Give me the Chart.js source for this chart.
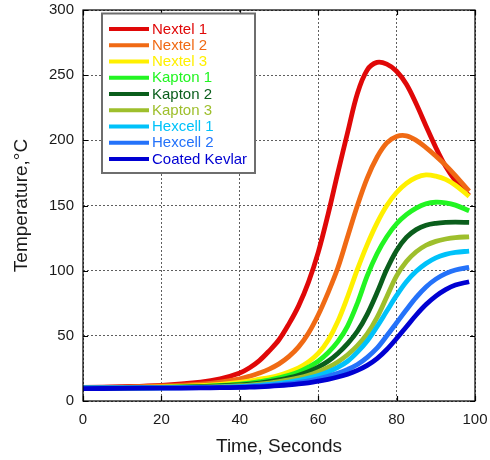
<!DOCTYPE html>
<html>
<head>
<meta charset="utf-8">
<script src="https://cdn.jsdelivr.net/npm/chart.js@4.4.1/dist/chart.umd.min.js"></script>
<style>
  html, body { margin: 0; padding: 0; background: #ffffff; }
  #wrap { width: 490px; height: 460px; position: relative; }
</style>
</head>
<body>
<div id="wrap"><canvas id="c" width="490" height="460"></canvas></div>
<script>
// ---- data ----
const TIMES = [0, 10, 20, 30, 35, 40, 42.5, 45, 47.5, 50, 52.5, 55, 57.5, 60, 62.5, 65, 67.5, 70, 72.5, 75, 77.5, 80, 82.5, 85, 87.5, 90, 92.5, 95, 98.5];

const NEXTEL_1      = [10.5, 11, 12, 14.5, 17, 21.5, 25.5, 31, 38.5, 47, 59, 73, 91, 114, 143, 175, 206, 236, 254, 259.8, 258.5, 253, 243, 228, 211, 194.5, 180, 169, 157.5];
const NEXTEL_2      = [10.3, 10.7, 11.5, 13, 14.5, 17, 19, 21.5, 24.5, 28.5, 34, 41.5, 52, 66, 83, 102, 126, 150, 171, 187, 198, 203, 203.5, 200, 194.5, 188, 181, 173, 161];
const NEXTEL_3      = [10, 10.2, 10.8, 11.8, 12.8, 14.3, 15.4, 16.7, 18, 19.8, 22.3, 25.5, 30, 36.5, 46.5, 61, 80, 101, 120, 136.5, 150, 160, 167, 171.5, 173.5, 172.5, 170, 165.5, 157];
const KAPTON_1      = [10, 10, 10.5, 11.2, 12, 13, 13.8, 14.8, 16, 17.7, 19.7, 22.3, 26, 30.5, 37, 45.5, 57.5, 75, 96, 113, 126, 136, 143, 148, 151.3, 152.5, 152, 150.3, 146];
const KAPTON_2      = [10, 10, 10.3, 11, 11.5, 12.3, 12.9, 13.7, 14.8, 16.2, 17.8, 19.8, 22.5, 26, 30.5, 36.5, 44, 53.5, 66.5, 83, 101, 115.5, 125.5, 131.5, 134.8, 136.3, 137, 137.2, 137];
const KAPTON_3      = [10, 10, 10.2, 10.7, 11.1, 11.7, 12.2, 12.9, 13.8, 14.9, 16.2, 17.8, 19.8, 22.5, 25.8, 30, 35.5, 42.5, 51.5, 64, 80, 96, 107, 114.5, 119.5, 122.5, 124.3, 125.4, 126];
const HEXCELL_1     = [10, 10, 10.1, 10.4, 10.7, 11.1, 11.5, 12, 12.7, 13.5, 14.5, 15.8, 17.5, 19.6, 22.3, 25.8, 30.5, 37.5, 46, 57, 69, 81, 91.5, 99.5, 105.5, 109.8, 112.5, 114, 115];
const HEXCELL_2     = [10, 10, 10, 10.2, 10.4, 10.7, 11, 11.4, 11.9, 12.5, 13.3, 14.3, 15.5, 17, 18.9, 21.2, 24.2, 28, 33.5, 40.5, 50, 60, 70, 79.5, 87.5, 93.5, 97.7, 100.5, 102.5];
const COATED_KEVLAR = [9.5, 9.7, 9.9, 10, 10.2, 10.4, 10.6, 10.9, 11.3, 11.8, 12.4, 13.1, 14, 15.2, 16.6, 18.4, 20.6, 23.5, 27.3, 32.5, 39.5, 48, 57, 66, 74, 80.5, 85.5, 89, 91.5];

const SERIES_LABELS = ['Nextel 1', 'Nextel 2', 'Nextel 3', 'Kapton 1', 'Kapton 2', 'Kapton 3', 'Hexcell 1', 'Hexcell 2', 'Coated Kevlar'];
const SERIES_VALUES = [NEXTEL_1, NEXTEL_2, NEXTEL_3, KAPTON_1, KAPTON_2, KAPTON_3, HEXCELL_1, HEXCELL_2, COATED_KEVLAR];
const SERIES_COLORS = ['#e00808', '#f06a14', '#fff000', '#22f522', '#0a5e1c', '#9ebf2c', '#00c2fa', '#2472fa', '#0000d2'];

const X_TICKS = [0, 20, 40, 60, 80, 100];
const Y_TICKS = [0, 50, 100, 150, 200, 250, 300];
const X_TITLE = 'Time, Seconds';
const Y_TITLE = 'Temperature,°C';

// ---- chart ----
const FONT = "'Liberation Sans', Arial, Helvetica, sans-serif";
const TEXT = '#1a1a1a';

const datasets = SERIES_VALUES.map((vals, i) => ({
  label: SERIES_LABELS[i],
  data: TIMES.map((t, k) => ({ x: t, y: vals[k] })),
  borderColor: SERIES_COLORS[i],
  backgroundColor: SERIES_COLORS[i],
  borderWidth: 4.8,
  pointRadius: 0,
  pointHoverRadius: 0,
  fill: false,
  tension: 0.35,
  borderJoinStyle: 'round',
  order: SERIES_VALUES.length - i
}));

const frameAndLegend = {
  id: 'frameAndLegend',
  afterDraw(chart) {
    const ctx = chart.ctx;
    const a = chart.chartArea;
    const xs = chart.scales.x, ys = chart.scales.y;
    ctx.save();
    // frame
    ctx.strokeStyle = '#000';
    ctx.lineWidth = 1.2;
    ctx.setLineDash([]);
    ctx.strokeRect(a.left, a.top, a.right - a.left, a.bottom - a.top);
    // inward ticks on all four sides
    const TL = 5;
    ctx.beginPath();
    X_TICKS.forEach(v => {
      const px = Math.round(xs.getPixelForValue(v)) + 0.5;
      ctx.moveTo(px, a.bottom); ctx.lineTo(px, a.bottom - TL);
      ctx.moveTo(px, a.top); ctx.lineTo(px, a.top + TL);
    });
    Y_TICKS.forEach(v => {
      const py = Math.round(ys.getPixelForValue(v)) + 0.5;
      ctx.moveTo(a.left, py); ctx.lineTo(a.left + TL, py);
      ctx.moveTo(a.right, py); ctx.lineTo(a.right - TL, py);
    });
    ctx.stroke();

    // legend box
    const bx = 102, by = 13.5, bw = 153, bh = 159.5;
    ctx.fillStyle = '#fff';
    ctx.fillRect(bx, by, bw, bh);
    ctx.strokeStyle = '#6e6e6e';
    ctx.lineWidth = 2;
    ctx.strokeRect(bx, by, bw, bh);
    ctx.font = '15px ' + FONT;
    ctx.textBaseline = 'middle';
    ctx.textAlign = 'left';
    chart.data.datasets.forEach((ds, i) => {
      const cy = 29 + i * 16.25;
      ctx.strokeStyle = ds.borderColor;
      ctx.lineWidth = 4;
      ctx.beginPath();
      ctx.moveTo(109, cy); ctx.lineTo(149, cy);
      ctx.stroke();
      ctx.fillStyle = ds.borderColor;
      ctx.fillText(ds.label, 152, cy + 0.5);
    });
    ctx.restore();
  }
};

function zeroPad(s) { s.paddingLeft = 0; s.paddingRight = 0; s.paddingTop = 0; s.paddingBottom = 0; }

new Chart(document.getElementById('c'), {
  type: 'line',
  data: { datasets },
  plugins: [frameAndLegend],
  options: {
    responsive: false,
    animation: false,
    events: [],
    layout: { padding: { top: 10, right: 15, left: 0, bottom: 0 } },
    plugins: { legend: { display: false }, tooltip: { enabled: false } },
    scales: {
      x: {
        type: 'linear',
        min: 0, max: 100,
        afterFit(s) { s.height = 59; zeroPad(s); },
        afterBuildTicks(s) { s.ticks = X_TICKS.map(v => ({ value: v })); },
        ticks: { font: { size: 15, family: FONT }, color: TEXT, padding: 10, maxRotation: 0 },
        grid: { color: '#5e5e5e', lineWidth: 1, drawTicks: false },
        border: { display: false, dash: [2, 2] },
        title: { display: true, text: X_TITLE, font: { size: 19, family: FONT }, color: TEXT, padding: { top: 0, bottom: 2 } }
      },
      y: {
        type: 'linear',
        min: 0, max: 300,
        afterFit(s) { s.width = 83; zeroPad(s); },
        afterBuildTicks(s) { s.ticks = Y_TICKS.map(v => ({ value: v })); },
        ticks: { font: { size: 15, family: FONT }, color: TEXT, padding: 9 },
        grid: { color: '#5e5e5e', lineWidth: 1, drawTicks: false },
        border: { display: false, dash: [2, 2] },
        title: { display: true, text: Y_TITLE, font: { size: 19, family: FONT }, color: TEXT, padding: { top: 10, bottom: 0 } }
      }
    }
  }
});
</script>
</body>
</html>
